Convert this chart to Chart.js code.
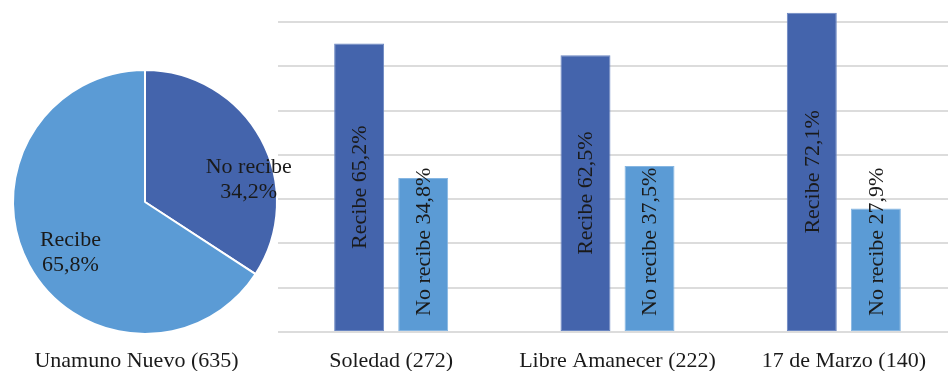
<!DOCTYPE html>
<html lang="es">
<head>
<meta charset="utf-8">
<title>Recepción por barrio</title>
<script src="https://cdn.jsdelivr.net/npm/chart.js@4.4.1/dist/chart.umd.min.js"></script>
<style>
  html, body { margin: 0; padding: 0; background: #ffffff; }
  body { width: 948px; height: 371px; overflow: hidden; position: relative; }
  #bars { position: absolute; left: 278px; top: 0; z-index: 1; }
  #pie  { position: absolute; left: 0; top: 0; z-index: 2; }
</style>
</head>
<body>
<canvas id="bars" width="679" height="371"></canvas>
<canvas id="pie" width="300" height="371"></canvas>
<script>
// Unamuno Nuevo (pie)
const pieTitle = 'Unamuno Nuevo (635)';
const pieLabels = ['No recibe', 'Recibe'];
const pieValues = [34.2, 65.8];

// Other neighbourhoods (grouped bars)
const barCategories = ['Soledad (272)', 'Libre Amanecer (222)', '17 de Marzo (140)'];
const seriesNames = ['Recibe', 'No recibe'];
const recibeValues = [65.2, 62.5, 72.1];
const noRecibeValues = [34.8, 37.5, 27.9];
const gridTicks = [0, 10, 20, 30, 40, 50, 60, 70];

const DARK = '#4464ac';
const LIGHT = '#5b9bd5';
const TEXT = '#1a1a1a';
const FONT_FAMILY = "'Liberation Serif', 'Times New Roman', serif";
const FONT_SIZE = 22;

const fmt = v => v.toFixed(1).replace('.', ',') + '%';

// Rotated value labels inside the bars
const barLabelPlugin = {
  id: 'barLabels',
  afterDatasetsDraw(chart) {
    const ctx = chart.ctx;
    ctx.save();
    ctx.font = FONT_SIZE + 'px ' + FONT_FAMILY;
    ctx.fillStyle = TEXT;
    ctx.textAlign = 'center';
    ctx.textBaseline = 'middle';
    chart.data.datasets.forEach((ds, di) => {
      const meta = chart.getDatasetMeta(di);
      meta.data.forEach((el, i) => {
        const text = ds.label + ' ' + fmt(ds.data[i]);
        const w = ctx.measureText(text).width;
        let cy;
        if (di === 0) {
          cy = (el.y + el.base) / 2;
        } else {
          cy = el.base - 15 - w / 2;
        }
        ctx.save();
        ctx.translate(el.x + 1, cy);
        ctx.rotate(-Math.PI / 2);
        ctx.fillText(text, 0, 0);
        ctx.restore();
      });
    });
    ctx.restore();
  }
};

new Chart(document.getElementById('bars'), {
  type: 'bar',
  data: {
    labels: barCategories,
    datasets: [
      { label: seriesNames[0], data: recibeValues, backgroundColor: DARK,
        borderColor: '#6a86c2', borderWidth: 1, borderSkipped: false },
      { label: seriesNames[1], data: noRecibeValues, backgroundColor: LIGHT,
        borderColor: '#86b6e2', borderWidth: 1, borderSkipped: false }
    ]
  },
  options: {
    responsive: false,
    animation: false,
    devicePixelRatio: 1,
    categoryPercentage: 0.566,
    barPercentage: 0.78,
    layout: { padding: 0 },
    plugins: { legend: { display: false }, tooltip: { enabled: false } },
    scales: {
      x: {
        grid: { display: false, drawTicks: false },
        border: { display: false },
        ticks: {
          color: TEXT,
          padding: 16,
          maxRotation: 0,
          font: { family: FONT_FAMILY, size: FONT_SIZE }
        },
        afterFit(scale) { scale.height = 39; }
      },
      y: {
        min: 0,
        max: 75,
        grid: { color: '#dcdcdc', lineWidth: 2, drawTicks: false },
        border: { display: false },
        ticks: { display: false },
        afterBuildTicks(scale) {
          scale.ticks = gridTicks.map(v => ({ value: v }));
        }
      }
    }
  },
  plugins: [barLabelPlugin]
});

// Slice labels and caption for the pie
const pieLabelPlugin = {
  id: 'pieLabels',
  afterDatasetsDraw(chart) {
    const ctx = chart.ctx;
    const arc = chart.getDatasetMeta(0).data[0];
    const cx = arc.x, cy = arc.y, r = arc.outerRadius;
    // label anchors as fractions of the radius from the centre
    const anchors = [[0.786, -0.168], [-0.565, 0.382]];
    ctx.save();
    ctx.font = FONT_SIZE + 'px ' + FONT_FAMILY;
    ctx.fillStyle = TEXT;
    ctx.textAlign = 'center';
    ctx.textBaseline = 'middle';
    pieLabels.forEach((name, i) => {
      const x = cx + anchors[i][0] * r;
      const y = cy + anchors[i][1] * r;
      ctx.fillText(name, x, y - 12.5);
      ctx.fillText(fmt(pieValues[i]), x, y + 12.5);
    });
    ctx.textBaseline = 'alphabetic';
    ctx.fillText(pieTitle, cx - 8.5, 367);
    ctx.restore();
  }
};

new Chart(document.getElementById('pie'), {
  type: 'pie',
  data: {
    labels: pieLabels,
    datasets: [{
      data: pieValues,
      backgroundColor: [DARK, LIGHT],
      borderColor: '#ffffff',
      borderWidth: 2
    }]
  },
  options: {
    responsive: false,
    animation: false,
    devicePixelRatio: 1,
    layout: { padding: { left: 12, right: 22, top: 69, bottom: 36 } },
    plugins: { legend: { display: false }, tooltip: { enabled: false } }
  },
  plugins: [pieLabelPlugin]
});
</script>
</body>
</html>
